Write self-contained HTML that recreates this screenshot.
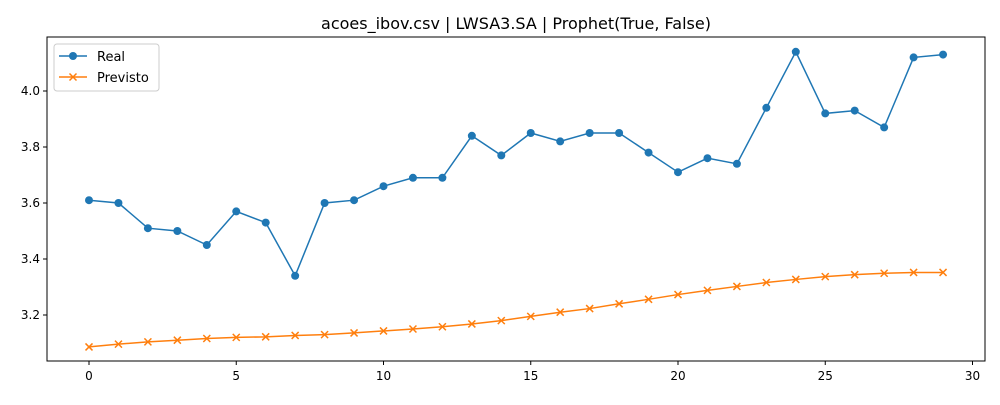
<!DOCTYPE html>
<html><head><meta charset="utf-8"><style>
body{margin:0;background:#fff;font-family:"Liberation Sans","DejaVu Sans",sans-serif}
</style></head><body>
<svg id="chart" width="1000" height="400" xmlns="http://www.w3.org/2000/svg" font-family="DejaVu Sans, Liberation Sans, sans-serif">
<rect width="1000" height="400" fill="#fff"/>
<text x="516" y="29" font-size="16" text-anchor="middle">acoes_ibov.csv | LWSA3.SA | Prophet(True, False)</text>
<g id="grid"></g>
<g id="series"></g>
<rect x="47" y="37" width="938" height="324" fill="none" stroke="#000" stroke-width="1"/>
<g>
<rect x="54" y="44" width="105" height="47" rx="3" fill="#fff" stroke="#ccc"/>
<g><line x1="59" y1="56" x2="87" y2="56" stroke="#1f77b4" stroke-width="1.5"/><circle cx="73" cy="56" r="4" fill="#1f77b4"/><text x="97" y="61" font-size="13">Real</text></g>
<g><line x1="59" y1="77" x2="87" y2="77" stroke="#ff7f0e" stroke-width="1.5"/><path d="M69.5 73.5l7 7M76.5 73.5l-7 7" stroke="#ff7f0e" stroke-width="1.5"/><text x="97" y="82" font-size="13">Previsto</text></g>
</g>
</svg>
<script>
const real=[3.61,3.60,3.51,3.50,3.45,3.57,3.53,3.34,3.60,3.61,3.66,3.69,3.69,3.84,3.77,3.85,3.82,3.85,3.85,3.78,3.71,3.76,3.74,3.94,4.14,3.92,3.93,3.87,4.12,4.13];
const previsto=[3.086,3.096,3.104,3.110,3.116,3.120,3.122,3.127,3.130,3.136,3.143,3.150,3.158,3.168,3.180,3.195,3.210,3.223,3.240,3.256,3.273,3.288,3.302,3.316,3.327,3.337,3.344,3.349,3.352,3.352];
const xTicks=[0,5,10,15,20,25,30];
const yTicks=[3.2,3.4,3.6,3.8,4.0];
const NS="http://www.w3.org/2000/svg";
const xS=v=>89+v*29.45;
const yS=v=>315-(v-3.2)*280;
const grid=document.getElementById('grid'),ser=document.getElementById('series');
function mk(tag,attrs,parent){const e=document.createElementNS(NS,tag);for(const k in attrs)e.setAttribute(k,attrs[k]);parent.appendChild(e);return e;}
xTicks.forEach(t=>{
 const g=mk('g',{},grid);
 
 
 mk('line',{x1:xS(t),x2:xS(t),y1:361,y2:365,stroke:'#000'},g);
 const tx=mk('text',{x:xS(t),y:380,'font-size':12,'text-anchor':'middle'},g);tx.textContent=t;
});
yTicks.forEach(t=>{
 const g=mk('g',{},grid);
 
 
 mk('line',{x1:43,x2:47,y1:yS(t),y2:yS(t),stroke:'#000'},g);
 const tx=mk('text',{x:40,y:yS(t)+4,'font-size':12,'text-anchor':'end'},g);tx.textContent=t.toFixed(1);
});
function line(data,color,name){
 const p=mk('polyline',{points:data.map((v,i)=>xS(i)+','+yS(v)).join(' '),fill:'none',stroke:color,'stroke-width':1.5},ser);
 
 
}
line(real,'#1f77b4','real');
line(previsto,'#ff7f0e','previsto');
real.forEach((v,i)=>{
 const c=mk('circle',{cx:xS(i),cy:yS(v),r:4,fill:'#1f77b4'},ser);
 
 
});
previsto.forEach((v,i)=>{
 const x=xS(i),y=yS(v);
 const p=mk('path',{d:`M${x-3.5} ${y-3.5}l7 7M${x+3.5} ${y-3.5}l-7 7`,stroke:'#ff7f0e','stroke-width':1.5},ser);
 
 
});
</script>
</body></html>
